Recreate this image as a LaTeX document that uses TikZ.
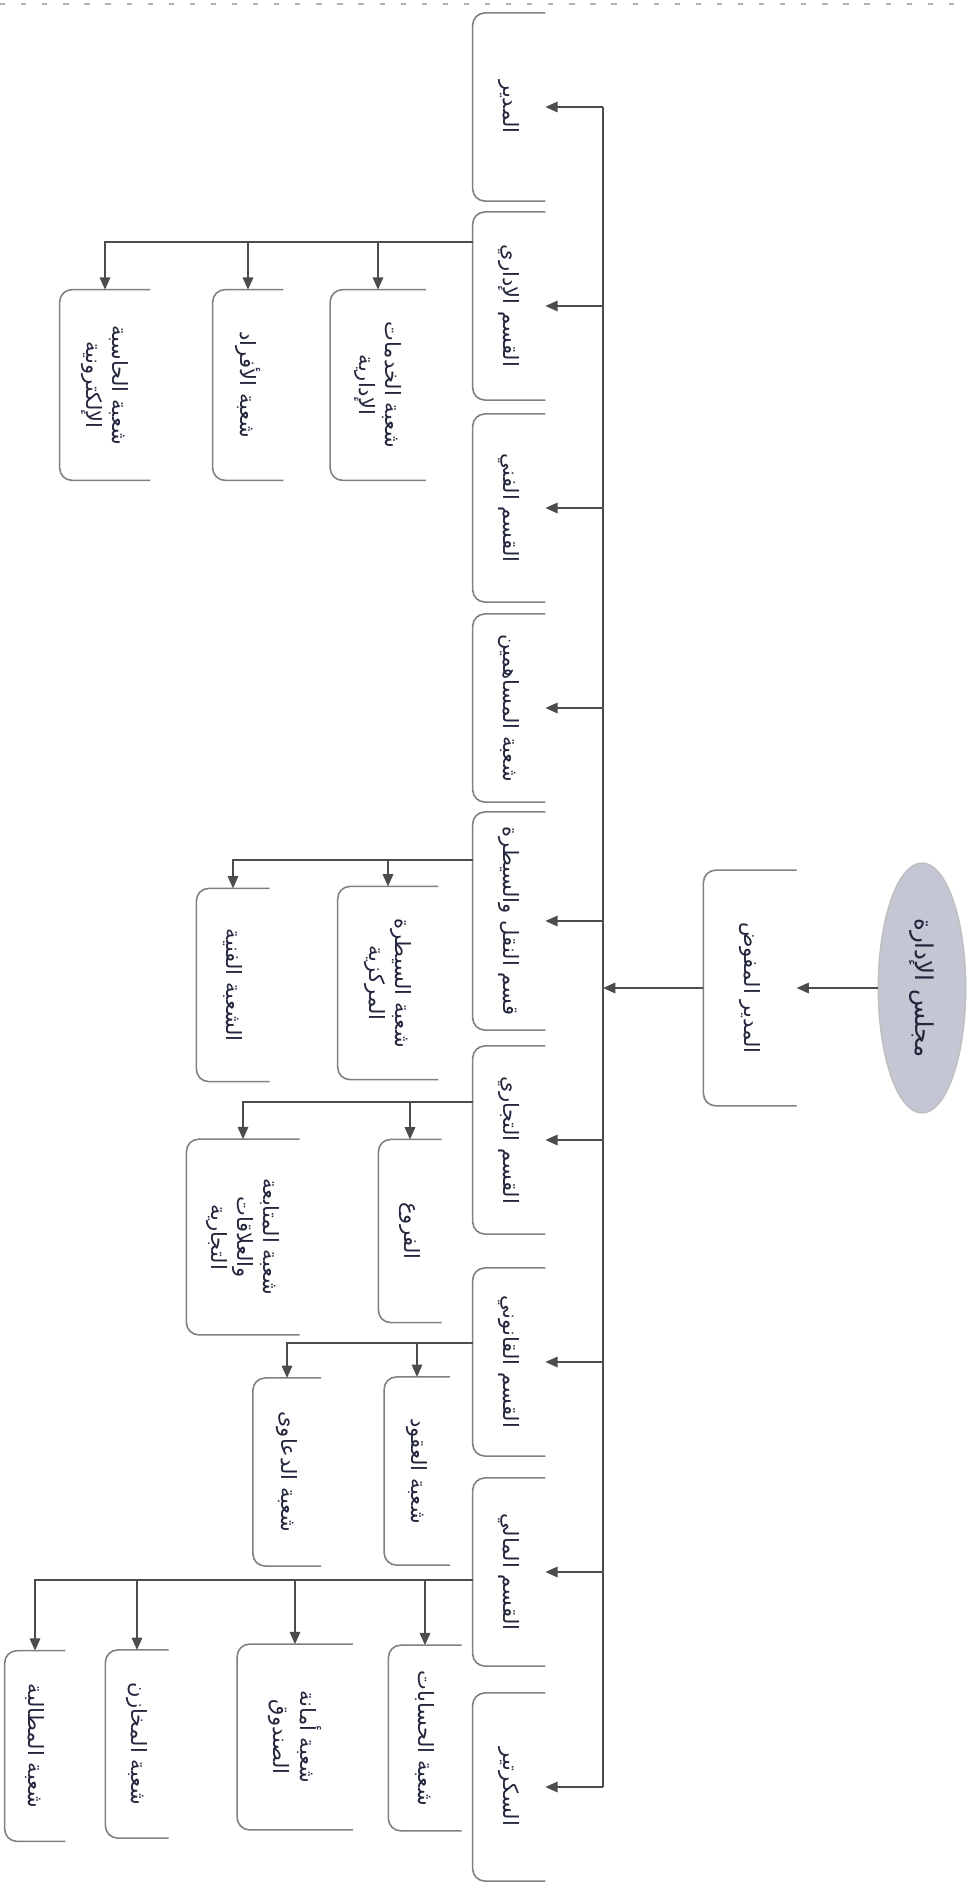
\documentclass[tikz,border=0pt]{standalone}
\usepackage{fontspec}
\usepackage{tikz}
\usetikzlibrary{arrows.meta,shapes.geometric}
\newfontfamily\arabicfont[Script=Arabic]{DejaVu Sans}
\TeXXeTstate=1
\newcommand\artxt[1]{\beginR #1\endR}
\definecolor{ink}{RGB}{35,38,60}
\definecolor{boardfill}{RGB}{196,198,212}

\tikzset{
  box/.style={rotate=-90, minimum width=3.75cm, minimum height=1.44cm, inner sep=2pt,
    align=center, font=\arabicfont\fontsize{12}{15}\selectfont, text=ink},
  board/.style={ellipse, rotate=-90, minimum width=5.0cm, minimum height=1.75cm,
    fill=boardfill, draw=black!25, line width=0.8pt,
    font=\arabicfont\fontsize{14}{17}\selectfont, text=ink},
  rim/.style={draw=black!50, line width=0.9pt, rounded corners=7pt},
  line/.style={draw=black!70, line width=0.9pt},
  arr/.style={line, -{Triangle[length=7pt,width=6pt]}},
}

\begin{document}
\begin{tikzpicture}[x=0.02cm, y=-0.02cm]
\useasboundingbox (0,0) rectangle (970,1887);
\draw[black!30, line width=1.2pt, dash pattern=on 3pt off 9pt] (0,4) -- (970,4);

% board and manager
\node[board] (board) at (922,988) {\artxt{مجلس الإدارة}};
\node[box, minimum width=4.7cm, minimum height=1.85cm] (mgr) at (750,988) {\artxt{المدير المفوض}};

% departments
\node[box] (d1) at (509,107) {\artxt{المدير}};
\node[box] (d2) at (509,306) {\artxt{القسم الإداري}};
\node[box] (d3) at (509,508) {\artxt{القسم الفني}};
\node[box] (d4) at (509,708) {\artxt{شعبة المساهمين}};
\node[box, minimum width=4.35cm] (d5) at (509,921) {\artxt{قسم النقل والسيطرة}};
\node[box] (d6) at (509,1140) {\artxt{القسم التجاري}};
\node[box] (d7) at (509,1362) {\artxt{القسم القانوني}};
\node[box] (d8) at (509,1572) {\artxt{القسم المالي}};
\node[box] (d9) at (509,1787) {\artxt{السكرتير}};

% sections
\node[box, minimum width=3.8cm, minimum height=1.9cm] (a1) at (378,385) {\artxt{شعبة الخدمات}\\\artxt{الإدارية}};
\node[box, minimum width=3.8cm, minimum height=1.4cm] (a2) at (248,385) {\artxt{شعبة الأفراد}};
\node[box, minimum width=3.8cm, minimum height=1.8cm] (a3) at (105,385) {\artxt{شعبة الحاسبة}\\\artxt{الإلكترونية}};
\node[box, minimum width=3.85cm, minimum height=2.0cm] (t1) at (388,983) {\artxt{شعبة السيطرة}\\\artxt{المركزية}};
\node[box, minimum width=3.85cm, minimum height=1.45cm] (t2) at (233,985) {\artxt{الشعبة الفنية}};
\node[box, minimum width=3.65cm, minimum height=1.25cm] (c1) at (410,1231) {\artxt{الفروع}};
\node[box, minimum width=3.9cm, minimum height=2.25cm] (c2) at (243,1237) {\artxt{شعبة المتابعة}\\\artxt{والعلاقات}\\\artxt{التجارية}};
\node[box, minimum width=3.75cm, minimum height=1.3cm] (l1) at (417,1471) {\artxt{شعبة العقود}};
\node[box, minimum width=3.75cm, minimum height=1.35cm] (l2) at (287,1472) {\artxt{شعبة الدعاوى}};
\node[box, minimum width=3.7cm, minimum height=1.45cm] (f1) at (425,1738) {\artxt{شعبة الحسابات}};
\node[box, minimum width=3.7cm, minimum height=2.3cm] (f2) at (295,1737) {\artxt{شعبة أمانة}\\\artxt{الصندوق}};
\node[box, minimum width=3.75cm, minimum height=1.25cm] (f3) at (137,1744) {\artxt{شعبة المخازن}};
\node[box, minimum width=3.8cm, minimum height=1.2cm] (f4) at (35,1746) {\artxt{شعبة المطالبة}};

% open box rims
\foreach \n in {mgr,d1,d2,d3,d4,d5,d6,d7,d8,d9,a1,a2,a3,t1,t2,c1,c2,l1,l2,f1,f2,f3,f4}
  \draw[rim] (\n.north west) -- (\n.south west) -- (\n.south east) -- (\n.north east);

% trunk
\coordinate (trunk) at (603,0);
\draw[arr] (board.south) -- (mgr.north);
\draw[arr] (mgr.south) -- (trunk |- mgr);
\draw[line] (trunk |- d1) -- (trunk |- d9);
\draw[arr] (trunk |- d1) -- (d1.north);
\draw[arr] (trunk |- d2) -- (d2.north);
\draw[arr] (trunk |- d3) -- (d3.north);
\draw[arr] (trunk |- d4) -- (d4.north);
\draw[arr] (trunk |- d5) -- (d5.north);
\draw[arr] (trunk |- d6) -- (d6.north);
\draw[arr] (trunk |- d7) -- (d7.north);
\draw[arr] (trunk |- d8) -- (d8.north);
\draw[arr] (trunk |- d9) -- (d9.north);

% branches
\coordinate (j2) at ([yshift=-0.6cm]d2.south west);
\draw[arr] (j2) -| (a3.west);
\draw[arr] (j2 -| a1.west) -- (a1.west);
\draw[arr] (j2 -| a2.west) -- (a2.west);

\coordinate (j5) at ([yshift=-0.96cm]d5.south west);
\draw[arr] (j5) -| (t2.west);
\draw[arr] (j5 -| t1.west) -- (t1.west);

\coordinate (j6) at ([yshift=-1.12cm]d6.south west);
\draw[arr] (j6) -| (c2.west);
\draw[arr] (j6 -| c1.west) -- (c1.west);

\coordinate (j7) at ([yshift=-1.5cm]d7.south west);
\draw[arr] (j7) -| (l2.west);
\draw[arr] (j7 -| l1.west) -- (l1.west);

\coordinate (j8) at ([yshift=-2.04cm]d8.south west);
\draw[arr] (j8) -| (f4.west);
\draw[arr] (j8 -| f1.west) -- (f1.west);
\draw[arr] (j8 -| f2.west) -- (f2.west);
\draw[arr] (j8 -| f3.west) -- (f3.west);
\end{tikzpicture}
\end{document}
